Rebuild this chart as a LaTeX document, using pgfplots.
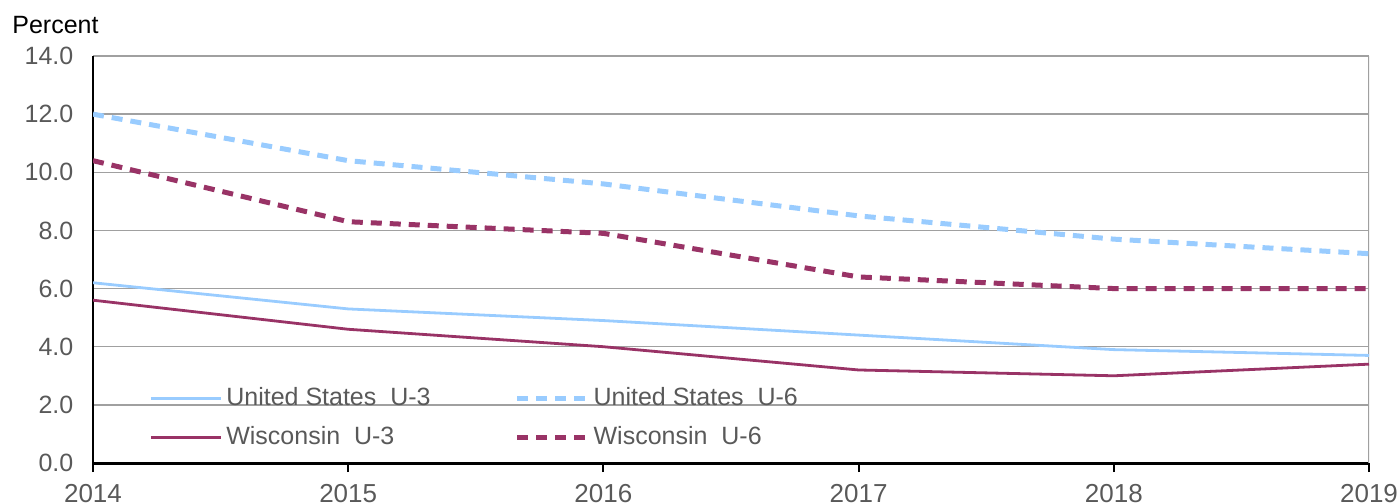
\documentclass[border=0pt]{standalone}
\usepackage{pgfplots}
\pgfplotsset{compat=1.18}
\usepackage{fontspec}
\setmainfont{Liberation Sans}
\definecolor{lblue}{RGB}{153,204,255}
\definecolor{maroon}{RGB}{153,51,102}
\definecolor{labgray}{RGB}{89,89,89}
\definecolor{gridgray}{RGB}{160,160,160}
\begin{document}
\fontsize{12.5}{15}\selectfont
\begin{tikzpicture}
\useasboundingbox (0,0) rectangle (700pt,251.5pt);
\node[anchor=base west, inner sep=0, font=\fontsize{12.5}{15}\selectfont] at (6pt,234.5pt) {Percent};
\begin{axis}[
  at={(46.5pt,20pt)}, anchor=south west,
  scale only axis, width=638pt, height=203.5pt,
  xmin=2014, xmax=2019, ymin=0, ymax=14,
  axis x line*=bottom, axis y line*=left,
  x axis line style={-, black, line width=1.5pt},
  y axis line style={-, black, line width=1pt},
  xtick={2014,2015,2016,2017,2018,2019},
  xticklabels={2014,2015,2016,2017,2018,2019},
  ytick={0,2,4,6,8,10,12,14},
  ymajorgrids, grid style={gridgray, line width=0.75pt},
  ytick style={draw=none},
  xtick style={black, line width=1pt},
  xtick align=outside, major tick length=4.5pt,
  tick label style={font=\fontsize{12.5}{15}\selectfont, text=labgray},
  xticklabel style={yshift=-2pt, font=\fontsize{13}{15}\selectfont},
  yticklabel style={xshift=-5.5pt, /pgf/number format/.cd, fixed, fixed zerofill, precision=1, assume math mode=true},
  legend columns=2,
  legend cell align=left,
  legend style={draw=none, fill=none, at={(axis cs:2014.22,2.75)}, anchor=north west,
    inner sep=0pt, row sep=4.5pt, font=\fontsize{12.5}{15}\selectfont, text=labgray,
    /tikz/column 2/.style={column sep=40pt}},
  legend image code/.code={\draw[#1] (0pt,0pt) -- (35pt,0pt);},
]
\draw[gridgray, line width=0.75pt] (rel axis cs:1,0) -- (rel axis cs:1,1);
\addplot[lblue, line width=1.4pt] coordinates {(2014,6.2) (2015,5.3) (2016,4.9) (2017,4.4) (2018,3.9) (2019,3.7)};
\addlegendentry{United States~~U-3}
\addplot[lblue, line width=2.5pt, dash pattern=on 5.5pt off 4pt] coordinates {(2014,12.0) (2015,10.4) (2016,9.6) (2017,8.5) (2018,7.7) (2019,7.2)};
\addlegendentry{United States~~U-6}
\addplot[maroon, line width=1.4pt] coordinates {(2014,5.6) (2015,4.6) (2016,4.0) (2017,3.2) (2018,3.0) (2019,3.4)};
\addlegendentry{Wisconsin~~U-3}
\addplot[maroon, line width=2.5pt, dash pattern=on 5.5pt off 4pt] coordinates {(2014,10.4) (2015,8.3) (2016,7.9) (2017,6.4) (2018,6.0) (2019,6.0)};
\addlegendentry{Wisconsin~~U-6}
\end{axis}
\end{tikzpicture}
\end{document}
